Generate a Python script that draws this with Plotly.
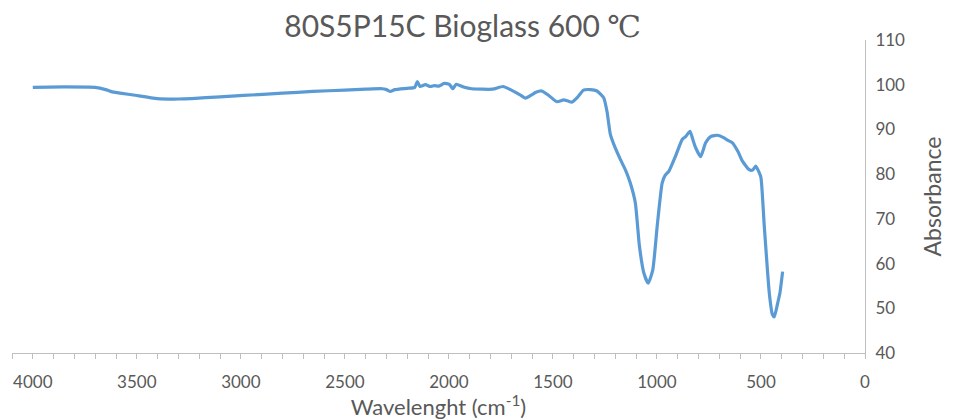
import plotly.graph_objects as go

wavenumber = [4000, 3850, 3701, 3650, 3619, 3517, 3402, 3300, 3237, 3100, 2987, 2800, 2654,
              2500, 2400, 2321, 2300, 2282, 2260, 2200, 2164, 2152, 2139, 2113, 2089, 2070,
              2048, 2023, 1998, 1981, 1965, 1930, 1890, 1790, 1740, 1700, 1660, 1632, 1600,
              1582, 1554, 1520, 1481, 1449, 1430, 1409, 1380, 1353, 1320, 1288, 1256, 1240,
              1224, 1200, 1176, 1150, 1128, 1104, 1084, 1063, 1042, 1020, 999, 975, 960, 942,
              911, 878, 862, 841, 828, 814, 790, 766, 742, 709, 677, 661, 637, 610, 589, 557,
              540, 525, 510, 500, 484, 460, 445, 436, 420, 409, 396]
absorbance = [99.4, 99.5, 99.4, 98.9, 98.4, 97.7, 96.9, 96.8, 96.9, 97.3, 97.6, 98.1, 98.5,
              98.8, 99.0, 99.1, 98.9, 98.5, 98.9, 99.2, 99.4, 100.7, 99.6, 100.0, 99.6, 99.8,
              99.7, 100.3, 100.1, 99.1, 100.1, 99.5, 99.1, 99.0, 99.6, 98.8, 97.8, 97.0, 97.8,
              98.3, 98.6, 97.6, 96.2, 96.6, 96.4, 96.1, 97.3, 98.8, 98.9, 98.6, 97.1, 94.0,
              88.9, 85.8, 83.3, 80.8, 78.0, 73.6, 63.8, 57.9, 55.6, 58.6, 68.3, 78.0, 79.8, 80.7,
              84.0, 87.8, 88.4, 89.6, 87.8, 85.9, 83.9, 87.0, 88.4, 88.7, 88.1, 87.6, 87.0, 85.0,
              82.9, 81.0, 80.9, 81.8, 80.5, 79.2, 68.3, 53.4, 48.6, 48.1, 51.1, 53.4, 58.2]

x_ticks = [4000, 3500, 3000, 2500, 2000, 1500, 1000, 500, 0]
y_ticks = [40, 50, 60, 70, 80, 90, 100, 110]

FONT = "Lato"
GREY_TXT = "#595959"
AXIS_COL = "#BFBFBF"

fig = go.Figure()
fig.add_trace(go.Scatter(
    x=wavenumber, y=absorbance, mode="lines",
    line=dict(color="#5B9BD5", width=3.2, shape="spline", smoothing=0.5),
    showlegend=False, hoverinfo="x+y"))

title_text = ("80S5P15C Bioglass 600 "
              "<span style=\"font-family:'DejaVu Serif';font-weight:normal\">℃</span>")

fig.update_layout(
    width=956, height=420,
    margin=dict(l=12, r=91, t=40, b=67, autoexpand=False),
    paper_bgcolor="white", plot_bgcolor="white",
    font=dict(family=FONT, color=GREY_TXT, size=17),
    title=dict(text=title_text, x=0.484, xref="container", xanchor="center",
               y=0.936, yref="container", yanchor="middle",
               font=dict(family=FONT, size=30, color=GREY_TXT)),
)
fig.update_xaxes(
    range=[4100, 0], autorange=False, automargin=False,
    tickvals=x_ticks, ticktext=[str(v) for v in x_ticks],
    showgrid=False, zeroline=False,
    showline=True, linecolor=AXIS_COL, linewidth=1,
    ticks="outside", ticklen=5, tickcolor=AXIS_COL,
    minor=dict(dtick=100, tick0=0, ticks="outside", ticklen=5, tickcolor=AXIS_COL, showgrid=False),
    ticklabelstandoff=9,
    tickfont=dict(size=17, color=GREY_TXT),
    title=dict(text="Wavelenght (cm<sup>-1</sup>)", standoff=3,
               font=dict(size=22, color=GREY_TXT)),
)
fig.update_yaxes(
    range=[40, 110], autorange=False, side="right", automargin=False,
    tickvals=y_ticks, showgrid=False, zeroline=False,
    showline=True, linecolor=AXIS_COL, linewidth=1,
    ticks="", ticklabelstandoff=6,
    tickfont=dict(size=17, color=GREY_TXT),
    title=dict(text="Absorbance", standoff=20, font=dict(size=23, color=GREY_TXT)),
)

fig.write_html("out.html")
